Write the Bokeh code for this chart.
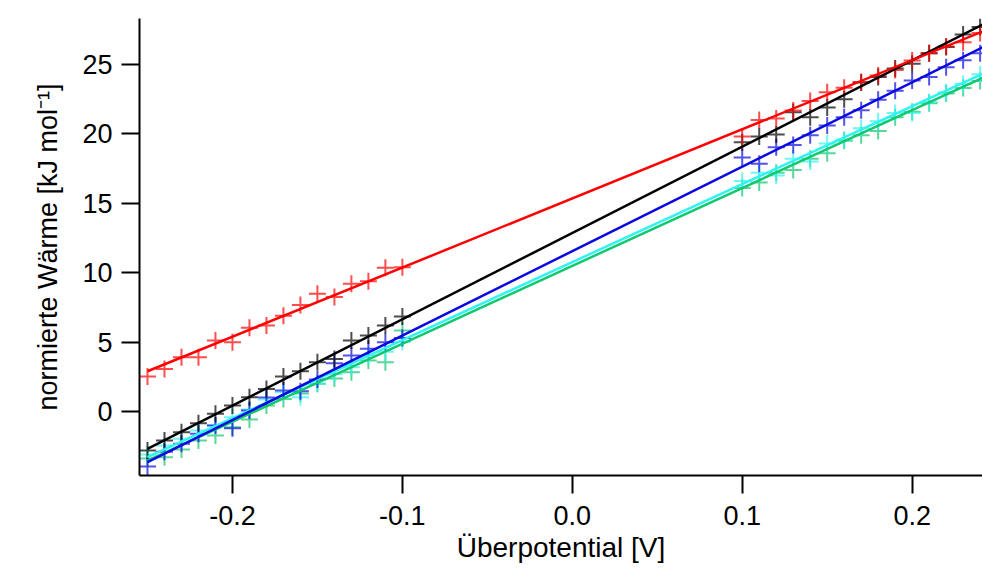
from bokeh.plotting import figure
from bokeh.models import FixedTicker, PrintfTickFormatter, Range1d
from bokeh.embed import file_html
from bokeh.resources import INLINE

# ---- data ----
x_left = [-0.25, -0.24, -0.23, -0.22, -0.21, -0.20, -0.19, -0.18,
          -0.17, -0.16, -0.15, -0.14, -0.13, -0.12, -0.11, -0.10]
x_right = [0.10, 0.11, 0.12, 0.13, 0.14, 0.15, 0.16, 0.17,
           0.18, 0.19, 0.20, 0.21, 0.22, 0.23, 0.24]

red_left = [2.52, 3.07, 3.91, 3.91, 5.12, 4.99, 6.03, 6.2, 6.9, 7.68, 8.48, 8.24, 9.2, 9.39, 10.35, 10.4]
red_right = [19.81, 21.0, 21.1, 21.69, 22.36, 23.0, 23.32, 23.73, 24.2, 24.6, 25.29, 25.8, 26.3, 26.6, 27.26]

black_left = [-2.81, -2.09, -1.49, -0.84, -0.17, 0.43, 1.03, 1.63, 2.52, 2.9, 3.55, 3.79, 5.12, 5.48, 6.2, 6.84]
black_right = [19.4, 19.81, 19.96, 21.56, 21.2, 21.9, 22.5, 23.7, 24.1, 24.7, 25.05, 25.8, 26.25, 27.16, 27.7]

blue_left = [-3.96, -2.9, -2.33, -1.6, -1.0, -1.2, 0.07, 1.0, 1.51, 1.46, 2.3, 3.48, 4.03, 4.52, 4.99, 5.3]
blue_right = [18.3, 17.85, 19.04, 19.2, 19.9, 20.6, 21.2, 21.7, 22.45, 23.1, 23.85, 24.1, 24.8, 25.3, 25.8]

cyan_left = [-3.1, -2.45, -1.97, -1.37, -1.0, -0.41, 0.14, 0.86, 1.39, 1.03, 2.0, 2.7, 3.19, 4.03, 4.3, 5.0]
cyan_right = [16.6, 17.2, 17.0, 18.2, 18.0, 19.3, 19.6, 20.4, 20.9, 21.5, 21.5, 22.3, 23.0, 23.6, 24.3]

green_left = [-3.39, -3.29, -2.74, -2.09, -1.73, -1.13, -0.58, 0.43, 0.9, 1.3, 2.0, 2.38, 2.83, 3.67, 3.55, 5.84]
green_right = [16.1, 16.5, 17.2, 17.4, 18.2, 18.6, 19.5, 19.9, 20.2, 21.2, 21.6, 22.2, 22.9, 23.3, 23.8]

# linear fits (slope, intercept)
series_names = ["green", "cyan", "blue", "black", "red"]
fit_slope = [56.1, 56.2, 60.8, 62.2, 49.8]
fit_intercept = [10.49, 10.76, 11.55, 12.86, 15.35]
colors = ["#10c870", "#30f4f0", "#0a0ae0", "#000000", "#ff0000"]

x_ticks = [-0.2, -0.1, 0.0, 0.1, 0.2]
y_ticks = [0, 5, 10, 15, 20, 25]

points = {
    "green": (green_left, green_right),
    "cyan": (cyan_left, cyan_right),
    "blue": (blue_left, blue_right),
    "black": (black_left, black_right),
    "red": (red_left, red_right),
}

FONT = "Liberation Sans"

p = figure(width=982, height=574, output_backend="svg", toolbar_location=None,
           x_range=Range1d(-0.2547, 0.2414), y_range=Range1d(-4.61, 28.31),
           min_border_left=139, min_border_right=0, min_border_top=18,
           min_border_bottom=99)
p.outline_line_color = None
p.grid.visible = False
p.background_fill_color = "white"
p.border_fill_color = "white"

xs = x_left + x_right
for name, col in zip(series_names, colors):
    l, r = points[name]
    p.scatter(xs, l + r, marker="cross", size=17, line_color=col,
              line_width=2, line_alpha=0.7)

fx = [min(xs), max(xs) + 0.003]
for name, col, m, b in zip(series_names, colors, fit_slope, fit_intercept):
    p.line(fx, [b + m * v for v in fx], line_color=col, line_width=2.5)

for ax in (p.xaxis[0], p.yaxis[0]):
    ax.axis_line_width = 2
    ax.axis_line_color = "black"
    ax.major_tick_line_width = 2
    ax.major_tick_in = 0
    ax.major_tick_out = 18
    ax.minor_tick_line_color = None
    ax.major_label_text_font = FONT
    ax.major_label_text_font_size = "27px"
    ax.major_label_text_color = "black"
    ax.axis_label_text_font = FONT
    ax.axis_label_text_font_style = "normal"
    ax.axis_label_text_color = "black"

p.xaxis.axis_label_text_font_size = "28px"
p.yaxis.axis_label_text_font_size = "27px"
p.xaxis.ticker = FixedTicker(ticks=x_ticks)
p.xaxis.formatter = PrintfTickFormatter(format="%.1f")
p.yaxis.ticker = FixedTicker(ticks=y_ticks)
p.xaxis.axis_label = "Überpotential [V]"
p.yaxis.axis_label = "normierte Wärme [kJ mol⁻¹]"
p.xaxis.major_label_standoff = 12
p.yaxis.major_label_standoff = 9
p.xaxis.axis_label_standoff = 4
p.yaxis.axis_label_standoff = 16

open("out.html", "w").write(file_html(p, INLINE))
